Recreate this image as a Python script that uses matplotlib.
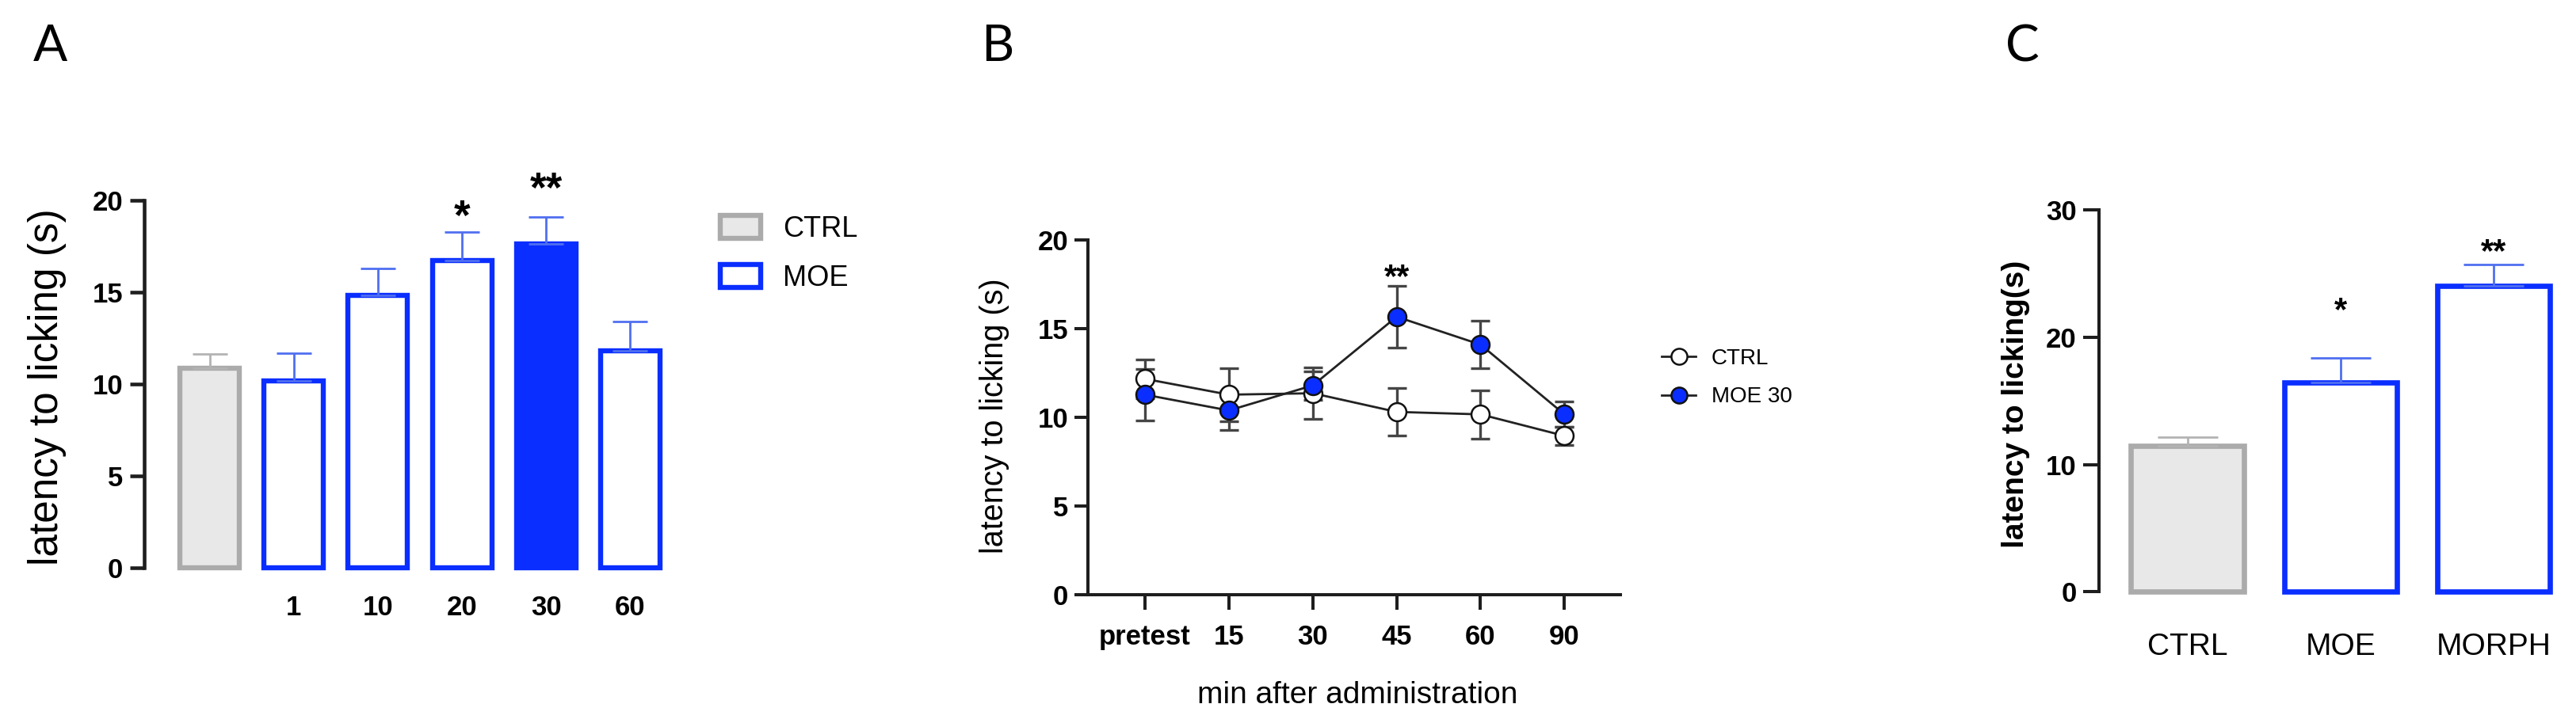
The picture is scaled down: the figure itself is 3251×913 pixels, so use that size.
import matplotlib
matplotlib.use('Agg')
import matplotlib.pyplot as plt
from matplotlib.patches import Patch
from matplotlib.lines import Line2D
import numpy as np

plt.rcParams['font.family'] = ['Liberation Sans', 'DejaVu Sans']

# ---------------- data ----------------
# Panel A
a_groups = ['', '1', '10', '20', '30', '60']
a_mean = [10.86, 10.17, 14.83, 16.70, 17.60, 11.80]
a_sem = [0.76, 1.50, 1.44, 1.58, 1.50, 1.60]
a_sig = ['', '', '', '*', '**', '']
a_sig_y = [0, 0, 0, 19.7, 21.2, 0]
a_legend = ['CTRL', 'MOE']
a_yticks = [0, 5, 10, 15, 20]

# Panel B
b_times = ['pretest', '15', '30', '45', '60', '90']
b_ctrl_mean = [12.16, 11.27, 11.35, 10.30, 10.16, 8.95]
b_ctrl_sem = [1.10, 1.50, 1.45, 1.34, 1.37, 0.50]
b_moe_mean = [11.27, 10.38, 11.79, 15.66, 14.09, 10.16]
b_moe_sem = [1.45, 1.10, 0.80, 1.73, 1.34, 0.72]
b_sig = ['', '', '', '**', '', '']
b_sig_y = [0, 0, 0, 18.4, 0, 0]
b_legend = ['CTRL', 'MOE 30']
b_yticks = [0, 5, 10, 15, 20]

# Panel C
c_groups = ['CTRL', 'MOE', 'MORPH']
c_mean = [11.45, 16.42, 24.0]
c_sem = [0.68, 1.97, 1.70]
c_sig = ['', '*', '**']
c_sig_y = [0, 22.84, 27.4]
c_yticks = [0, 10, 20, 30]

# ---------------- style ----------------
W, H = 3251, 913
BLUE = '#0A2EFF'
BLUE_ERR = '#4F6FF0'
GREY_FILL = '#E8E8E8'
GREY_EDGE = '#ABABAB'
GREY_ERR = '#B3B3B3'
AX = '#1e1e1e'

fig = plt.figure(figsize=(W / 100, H / 100), dpi=100)


def px_axes(left, right, top, bottom):
    return fig.add_axes([left / W, 1 - bottom / H, (right - left) / W, (bottom - top) / H])


def style_y(ax, ticks, lw, tl):
    ax.set_yticks(ticks)
    ax.set_yticklabels([str(t) for t in ticks], fontsize=25, fontweight='bold')
    ax.tick_params(axis='y', length=tl, width=lw, color=AX, pad=6)
    ax.spines['left'].set_linewidth(lw)
    ax.spines['left'].set_color(AX)
    for s in ['top', 'right']:
        ax.spines[s].set_visible(False)


def stars(ax, xs, ys, labels, fs):
    # asterisks sit high in the text box: shift down so the glyph centre is at y
    for x, y, s in zip(xs, ys, labels):
        if s:
            ax.annotate(s, (x, y), xytext=(0, -0.30 * fs), textcoords='offset points',
                        ha='center', va='center', fontsize=fs, fontweight='bold',
                        annotation_clip=False)


# ---------------- Panel A ----------------
axA = px_axes(181.7, 878, 252.7, 717.3)
xa = np.arange(len(a_mean))
faces = [GREY_FILL, 'white', 'white', 'white', BLUE, 'white']
edges = [GREY_EDGE, BLUE, BLUE, BLUE, BLUE, BLUE]
errc = [GREY_ERR, BLUE_ERR, BLUE_ERR, BLUE_ERR, BLUE_ERR, BLUE_ERR]
bars = axA.bar(xa, a_mean, width=0.707, color=faces, edgecolor=edges, linewidth=4.6, zorder=2)
for b in bars:
    b.set_clip_on(False)
for i in range(len(a_mean)):
    axA.errorbar(xa[i], a_mean[i], yerr=[[0], [a_sem[i]]], fmt='none', ecolor=errc[i],
                 elinewidth=2.0, capsize=15.8, capthick=2.0, zorder=3)
stars(axA, xa, a_sig_y, a_sig, 38)
axA.set_xlim(-0.783, 5.78)
axA.set_ylim(0, 20)
style_y(axA, a_yticks, 3.3, 13)
axA.spines['bottom'].set_visible(False)
axA.set_xticks(xa)
axA.set_xticklabels(a_groups, fontsize=25, fontweight='bold')
axA.tick_params(axis='x', length=0, pad=24)
axA.set_ylabel('latency to licking (s)', fontsize=37, va='center')
axA.yaxis.set_label_coords(-0.1748, 0.492)
handlesA = [Patch(facecolor=GREY_FILL, edgecolor=GREY_EDGE, linewidth=4.6),
            Patch(facecolor='white', edgecolor=BLUE, linewidth=4.6)]
axA.legend(handlesA, a_legend, loc='center left', bbox_to_anchor=(909 / W, 1 - 320.5 / H),
           bbox_transform=fig.transFigure, frameon=False, fontsize=26, handlelength=1.4,
           handleheight=0.85, handletextpad=0.8, labelspacing=0.75, borderpad=0, borderaxespad=0)

# ---------------- Panel B ----------------
axB = px_axes(1373.3, 2045, 302.7, 751)
xb = np.arange(len(b_times))
axB.errorbar(xb, b_ctrl_mean, yerr=b_ctrl_sem, fmt='none', ecolor='#454545', elinewidth=2.4,
             capsize=8.3, capthick=2.4, zorder=2)
axB.errorbar(xb, b_moe_mean, yerr=b_moe_sem, fmt='none', ecolor='#454545', elinewidth=2.4,
             capsize=8.3, capthick=2.4, zorder=2)
axB.plot(xb, b_ctrl_mean, color='#222222', lw=2.0, marker='o', ms=16.5, mfc='white',
         mec='#111111', mew=1.8, zorder=3, clip_on=False)
axB.plot(xb, b_moe_mean, color='#222222', lw=2.0, marker='o', ms=16.5, mfc=BLUE,
         mec='#111111', mew=1.8, zorder=4, clip_on=False)
stars(axB, xb, b_sig_y, b_sig, 30)
axB.set_xlim(-0.677, 5.667)
axB.set_ylim(0, 20)
style_y(axB, b_yticks, 2.9, 12)
axB.spines['bottom'].set_linewidth(2.9)
axB.spines['bottom'].set_color(AX)
axB.set_xticks(xb)
axB.set_xticklabels(b_times, fontsize=25, fontweight='bold')
axB.tick_params(axis='x', direction='out', length=13.5, width=2.9, color=AX, pad=13)
axB.set_ylabel('latency to licking (s)', fontsize=28.5, va='center')
axB.yaxis.set_label_coords(-0.176, 0.504)
axB.set_xlabel('min after administration', fontsize=28, va='center')
axB.xaxis.set_label_coords(0.506, -0.283)
handlesB = [Line2D([], [], color='#222222', lw=2.0, marker='o', ms=14.5, mfc='white',
                   mec='#111111', mew=1.8),
            Line2D([], [], color='#222222', lw=2.0, marker='o', ms=14.5, mfc=BLUE,
                   mec='#111111', mew=1.8)]
axB.legend(handlesB, b_legend, loc='center left', bbox_to_anchor=(2097 / W, 1 - 477.2 / H),
           bbox_transform=fig.transFigure, frameon=False, fontsize=20, handlelength=1.55,
           handletextpad=0.72, labelspacing=0.8, borderpad=0, borderaxespad=0)

# ---------------- Panel C ----------------
axC = px_axes(2649.3, 3233, 265, 747.3)
xc = np.arange(len(c_mean))
cfaces = [GREY_FILL, 'white', 'white']
cedges = [GREY_EDGE, BLUE, BLUE]
cerr = [GREY_ERR, BLUE_ERR, BLUE_ERR]
cbars = axC.bar(xc, c_mean, width=0.737, color=cfaces, edgecolor=cedges, linewidth=4.8, zorder=2)
for b in cbars:
    b.set_clip_on(False)
for i in range(len(c_mean)):
    axC.errorbar(xc[i], c_mean[i], yerr=[[0], [c_sem[i]]], fmt='none', ecolor=cerr[i],
                 elinewidth=2.0, capsize=27.3, capthick=2.0, zorder=3)
stars(axC, xc, c_sig_y, c_sig, 30)
axC.set_xlim(-0.576, 2.445)
axC.set_ylim(0, 30)
style_y(axC, c_yticks, 2.9, 14.5)
axC.spines['bottom'].set_visible(False)
axC.set_xticks(xc)
axC.set_xticklabels(c_groups, fontsize=28)
axC.tick_params(axis='x', length=0, pad=37)
axC.set_ylabel('latency to licking(s)', fontsize=28, fontweight='bold', va='center')
axC.yaxis.set_label_coords(-0.180, 0.491)

# ---------------- panel letters ----------------
for lab, xpx in [('A', 63), ('B', 1259), ('C', 2552)]:
    fig.text(xpx / W, 1 - 59 / H, lab, ha='center', va='center', fontsize=46,
             family=['Lato', 'DejaVu Sans'])

fig.savefig('out.png', dpi=100, facecolor='white')
